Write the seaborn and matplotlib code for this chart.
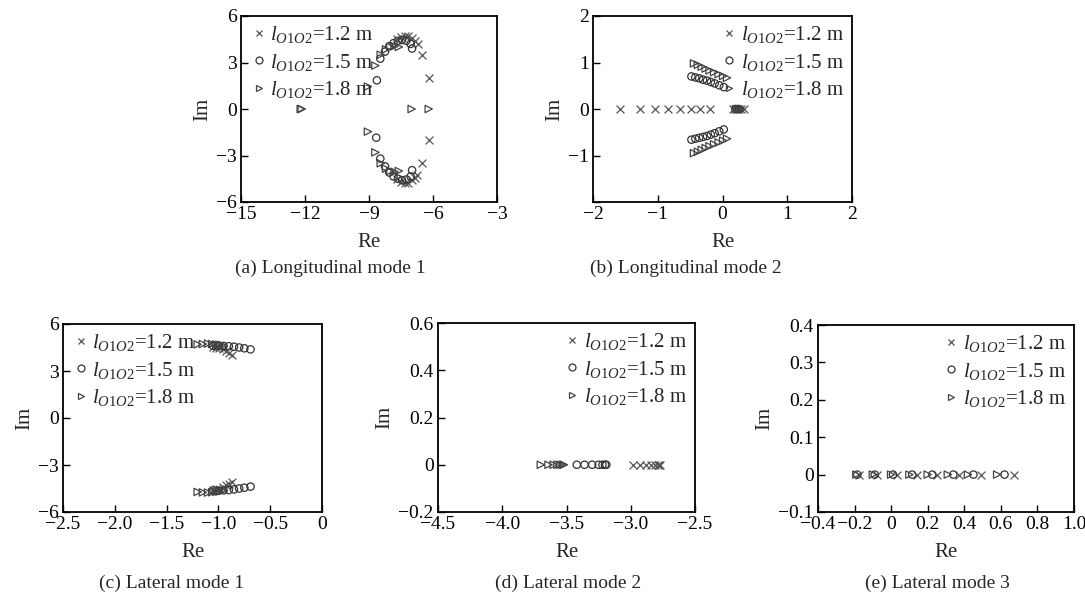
import matplotlib
matplotlib.use("Agg")
import matplotlib.pyplot as plt
from matplotlib.lines import Line2D
import seaborn as sns

sns.set_style("ticks")
plt.rcParams["font.family"] = ["Liberation Serif", "DejaVu Serif"]
plt.rcParams["mathtext.fontset"] = "custom"
plt.rcParams["mathtext.it"] = "Liberation Serif:italic"
plt.rcParams["mathtext.rm"] = "Liberation Serif"

# ---------------- data ----------------
labels = [r"$\mathit{l}_{\mathit{O1O2}}$=1.2 m",
          r"$\mathit{l}_{\mathit{O1O2}}$=1.5 m",
          r"$\mathit{l}_{\mathit{O1O2}}$=1.8 m"]

# (a) Longitudinal mode 1
a_re_12 = [-7.7, -7.5, -7.3, -7.15, -7.0, -6.85, -6.7, -6.5, -6.2,
           -7.7, -7.5, -7.3, -7.15, -7.0, -6.85, -6.75, -6.5, -6.2]
a_im_12 = [4.5, 4.65, 4.72, 4.7, 4.6, 4.4, 4.2, 3.5, 2.0,
           -4.5, -4.7, -4.8, -4.75, -4.6, -4.45, -4.26, -3.5, -2.0]
a_re_15 = [-8.63, -8.47, -8.25, -8.05, -7.85, -7.65, -7.45, -7.25, -7.05, -6.98,
           -8.66, -8.47, -8.25, -8.05, -7.85, -7.65, -7.45, -7.25, -7.05, -6.98]
a_im_15 = [1.85, 3.25, 3.7, 4.05, 4.25, 4.4, 4.45, 4.4, 4.2, 3.9,
           -1.85, -3.2, -3.7, -4.1, -4.35, -4.5, -4.6, -4.55, -4.35, -3.95]
a_re_18 = [-12.2, -12.15, -9.05, -8.7, -8.45, -8.2, -8.0, -7.8, -7.6, -7.0, -6.2,
           -9.05, -8.7, -8.45, -8.2, -8.0, -7.8, -7.6]
a_im_18 = [0.0, 0.0, 1.45, 2.8, 3.5, 3.85, 4.0, 4.05, 4.0, 0.0, 0.0,
           -1.46, -2.8, -3.5, -3.85, -4.0, -4.05, -4.0]

# (b) Longitudinal mode 2
b_re_12 = [-1.58, -1.27, -1.04, -0.84, -0.66, -0.48, -0.34, -0.20,
           0.16, 0.20, 0.23, 0.26, 0.29, 0.33]
b_im_12 = [0.0] * 14
b_re_15 = [-0.48, -0.42, -0.36, -0.30, -0.24, -0.18, -0.12, -0.05, 0.02,
           -0.48, -0.42, -0.36, -0.30, -0.24, -0.18, -0.12, -0.05, 0.02,
           0.20, 0.25]
b_im_15 = [0.70, 0.68, 0.66, 0.63, 0.61, 0.58, 0.55, 0.51, 0.47,
           -0.66, -0.64, -0.62, -0.60, -0.58, -0.55, -0.52, -0.48, -0.44,
           0.0, 0.0]
b_re_18 = [-0.44, -0.38, -0.32, -0.26, -0.20, -0.13, -0.06, 0.01, 0.07,
           -0.44, -0.38, -0.32, -0.26, -0.20, -0.13, -0.06, 0.01, 0.07,
           0.22, 0.28]
b_im_18 = [0.98, 0.95, 0.91, 0.87, 0.83, 0.79, 0.75, 0.71, 0.67,
           -0.95, -0.92, -0.88, -0.84, -0.80, -0.76, -0.72, -0.68, -0.64,
           0.0, 0.0]

# (c) Lateral mode 1
c_re_12 = [-1.05, -1.02, -0.99, -0.96, -0.93, -0.90, -0.87,
           -1.05, -1.02, -0.99, -0.96, -0.93, -0.90, -0.87]
c_im_12 = [4.55, 4.5, 4.45, 4.4, 4.3, 4.15, 4.0,
           -4.6, -4.55, -4.5, -4.4, -4.3, -4.2, -4.06]
c_re_15 = [-1.05, -1.0, -0.95, -0.9, -0.85, -0.8, -0.75, -0.69,
           -1.05, -1.0, -0.95, -0.9, -0.85, -0.8, -0.75, -0.69]
c_im_15 = [4.6, 4.62, 4.6, 4.58, 4.55, 4.5, 4.45, 4.38,
           -4.62, -4.64, -4.62, -4.6, -4.56, -4.5, -4.45, -4.38]
c_re_18 = [-1.2, -1.15, -1.1, -1.06, -1.02, -0.99, -0.96,
           -1.2, -1.15, -1.1, -1.06, -1.02, -0.99, -0.96]
c_im_18 = [4.7, 4.72, 4.75, 4.72, 4.7, 4.68, 4.65,
           -4.72, -4.75, -4.76, -4.74, -4.72, -4.7, -4.66]

# (d) Lateral mode 2
d_re_12 = [-2.98, -2.93, -2.88, -2.84, -2.81, -2.79, -2.78, -2.77]
d_re_15 = [-3.42, -3.36, -3.30, -3.25, -3.22, -3.20, -3.19]
d_re_18 = [-3.70, -3.64, -3.60, -3.57, -3.55, -3.53, -3.52]

# (e) Lateral mode 3
e_re_12 = [-0.175, -0.075, 0.03, 0.14, 0.25, 0.37, 0.49, 0.67]
e_re_15 = [-0.185, -0.09, 0.01, 0.115, 0.225, 0.34, 0.45, 0.62]
e_re_18 = [-0.19, -0.10, 0.0, 0.10, 0.20, 0.31, 0.42, 0.58]

# ---------------- styles ----------------
C12, C15, C18 = "#555555", "#333333", "#444444"
FS = 14

W, H = 1085, 600
fig = plt.figure(figsize=(W / 100, H / 100), dpi=100)


def px_axes(l, r, t, b):
    return fig.add_axes([l / W, 1 - b / H, (r - l) / W, (b - t) / H])


def draw(ax, s12, s15, s18, xlim, ylim, xt, yt, xtl, ytl, loc, caption, cx, cy):
    x12, y12 = s12
    x15, y15 = s15
    x18, y18 = s18
    sns.scatterplot(x=x12, y=y12, ax=ax, marker="x", color=C12, s=32, linewidth=0.9)
    sns.scatterplot(x=x15, y=y15, ax=ax, marker="o", facecolors="none",
                    edgecolor=C15, s=28, linewidth=0.9)
    sns.scatterplot(x=x18, y=y18, ax=ax, marker=">", facecolors="none",
                    edgecolor=C18, s=28, linewidth=0.9)
    ax.set_xlim(*xlim)
    ax.set_ylim(*ylim)
    ax.set_xticks(xt)
    ax.set_xticklabels(xtl)
    ax.set_yticks(yt)
    ax.set_yticklabels(ytl)
    ax.tick_params(direction="in", length=5, width=1, labelsize=FS, pad=3, colors="black")
    for sp in ax.spines.values():
        sp.set_visible(True)
        sp.set_linewidth(1.3)
        sp.set_color("black")
    ax.set_xlabel("Re", fontsize=FS + 1, labelpad=7)
    ax.set_ylabel("Im", fontsize=FS + 1, labelpad=3)
    handles = [Line2D([], [], ls="", marker="x", color=C12, markersize=5, mew=0.9),
               Line2D([], [], ls="", marker="o", mfc="none", mec=C15, markersize=5, mew=0.9),
               Line2D([], [], ls="", marker=">", mfc="none", mec=C18, markersize=5, mew=0.9)]
    ax.legend(handles, labels, loc=loc, frameon=False, fontsize=FS + 1,
              handletextpad=0.1, handlelength=0.9, labelspacing=0.3,
              borderaxespad=0.2, borderpad=0.2)
    fig.text(cx / W, 1 - cy / H, caption, fontsize=FS, ha="center", va="center")


def m(v):
    return [("\u2212" + t[1:]) if t.startswith("-") else t for t in v]


ax_a = px_axes(241, 497, 16, 202)
draw(ax_a, (a_re_12, a_im_12), (a_re_15, a_im_15), (a_re_18, a_im_18),
     (-15, -3), (-6, 6), [-15, -12, -9, -6, -3], [-6, -3, 0, 3, 6],
     m(["-15", "-12", "-9", "-6", "-3"]), m(["-6", "-3", "0", "3", "6"]),
     "upper left", "(a) Longitudinal mode 1", 330, 268)

ax_b = px_axes(593, 852, 16, 202)
draw(ax_b, (b_re_12, b_im_12), (b_re_15, b_im_15), (b_re_18, b_im_18),
     (-2, 2), (-2, 2), [-2, -1, 0, 1, 2], [-2, -1, 0, 1, 2],
     m(["-2", "-1", "0", "1", "2"]), m(["", "-1", "0", "1", "2"]),
     "upper right", "(b) Longitudinal mode 2", 686, 268)

ax_c = px_axes(63, 322, 324, 512)
draw(ax_c, (c_re_12, c_im_12), (c_re_15, c_im_15), (c_re_18, c_im_18),
     (-2.5, 0), (-6, 6), [-2.5, -2.0, -1.5, -1.0, -0.5, 0], [-6, -3, 0, 3, 6],
     m(["-2.5", "-2.0", "-1.5", "-1.0", "-0.5", "0"]), m(["-6", "-3", "0", "3", "6"]),
     "upper left", "(c) Lateral mode 1", 172, 583)

ax_d = px_axes(438, 695, 323, 512)
draw(ax_d, (d_re_12, [0.0] * len(d_re_12)), (d_re_15, [0.0] * len(d_re_15)),
     (d_re_18, [0.0] * len(d_re_18)),
     (-4.5, -2.5), (-0.2, 0.6), [-4.5, -4.0, -3.5, -3.0, -2.5], [-0.2, 0, 0.2, 0.4, 0.6],
     m(["-4.5", "-4.0", "-3.5", "-3.0", "-2.5"]), m(["-0.2", "0", "0.2", "0.4", "0.6"]),
     "upper right", "(d) Lateral mode 2", 568, 583)

ax_e = px_axes(818, 1074, 325, 512)
draw(ax_e, (e_re_12, [0.0] * len(e_re_12)), (e_re_15, [0.0] * len(e_re_15)),
     (e_re_18, [0.0] * len(e_re_18)),
     (-0.4, 1.0), (-0.1, 0.4), [-0.4, -0.2, 0, 0.2, 0.4, 0.6, 0.8, 1.0],
     [-0.1, 0, 0.1, 0.2, 0.3, 0.4],
     m(["-0.4", "-0.2", "0", "0.2", "0.4", "0.6", "0.8", "1.0"]),
     m(["-0.1", "0", "0.1", "0.2", "0.3", "0.4"]),
     "upper right", "(e) Lateral mode 3", 937, 583)

fig.savefig("out.png", dpi=100, facecolor="white")
